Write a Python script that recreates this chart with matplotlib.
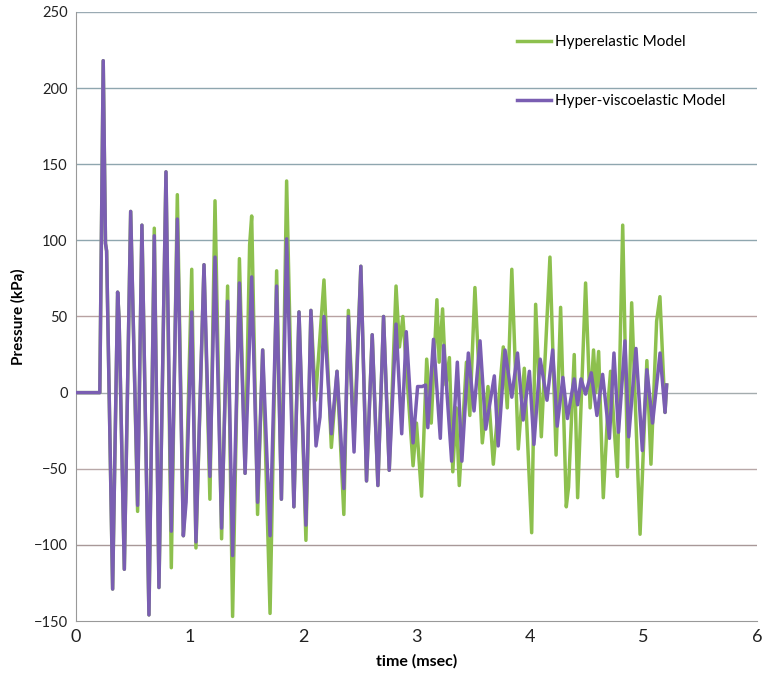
import matplotlib.pyplot as plt

# time (msec) / pressure (kPa), peaks and troughs
t_hyper = [0, 0.21, 0.24, 0.26, 0.27, 0.323, 0.367, 0.38, 0.426, 0.482, 0.543, 0.581,
           0.643, 0.69, 0.731, 0.793, 0.84, 0.893, 0.946, 0.97, 1.02, 1.057, 1.128, 1.18,
           1.225, 1.283, 1.336, 1.38, 1.44, 1.49, 1.53, 1.548, 1.60, 1.645, 1.71, 1.768,
           1.81, 1.856, 1.92, 1.965, 2.026, 2.07, 2.11, 2.185, 2.25, 2.30, 2.36, 2.40,
           2.45, 2.51, 2.56, 2.61, 2.66, 2.71, 2.76, 2.82, 2.85, 2.88, 2.97, 3.0, 3.045,
           3.09, 3.13, 3.18, 3.20, 3.23, 3.26, 3.29, 3.32, 3.35, 3.377, 3.44, 3.47, 3.515,
           3.58, 3.63, 3.677, 3.765, 3.80, 3.84, 3.897, 3.95, 4.015, 4.05, 4.1, 4.176,
           4.23, 4.27, 4.32, 4.34, 4.39, 4.42, 4.49, 4.53, 4.56, 4.58, 4.605, 4.646, 4.69,
           4.71, 4.77, 4.817, 4.86, 4.896, 4.97, 5.03, 5.066, 5.116, 5.145, 5.19, 5.204]
p_hyper = [0, 0, 218, 98, 93, -129, 66, 48, -116, 119, -78, 110,
           -146, 108, -128, 145, -115, 130, -94, -64, 81, -102, 84, -70,
           126, -96, 70, -147, 88, -53, 97, 116, -80, 28, -145, 80,
           -70, 139, -75, 53, -97, 54, -5, 74, -36, 14, -80, 54,
           -30, 83, -58, 38, -61, 50, -51, 70, 30, 50, -48, -20, -68,
           22, -20, 61, 20, 55, 5, 23, -52, -10, -61, 20, -15, 69,
           -33, 4, -47, 30, -10, 81, -37, 16, -92, 58, -29, 89,
           -41, 56, -75, -62, 25, -69, 72, -10, 28, 0, 27, -69, -5,
           14, -55, 110, -49, 59, -93, 21, -47, 47, 63, -13, 5]

t_visco = [0, 0.21, 0.24, 0.26, 0.27, 0.323, 0.367, 0.38, 0.426, 0.482, 0.543, 0.581,
           0.643, 0.69, 0.731, 0.793, 0.84, 0.893, 0.946, 0.97, 1.02, 1.057, 1.128, 1.18,
           1.225, 1.283, 1.336, 1.38, 1.44, 1.49, 1.548, 1.60, 1.645, 1.71, 1.768, 1.81,
           1.856, 1.92, 1.965, 2.026, 2.07, 2.115, 2.15, 2.185, 2.25, 2.30, 2.36, 2.40,
           2.45, 2.51, 2.56, 2.61, 2.66, 2.71, 2.76, 2.82, 2.87, 2.91, 2.97, 3.01, 3.05,
           3.08, 3.10, 3.15, 3.21, 3.24, 3.31, 3.36, 3.40, 3.457, 3.507, 3.56, 3.61, 3.686,
           3.72, 3.78, 3.84, 3.89, 3.94, 3.995, 4.035, 4.09, 4.15, 4.2, 4.24, 4.29, 4.33,
           4.39, 4.42, 4.45, 4.49, 4.54, 4.59, 4.64, 4.70, 4.74, 4.78, 4.837, 4.87, 4.934,
           4.99, 5.03, 5.08, 5.146, 5.19, 5.204]
p_visco = [0, 0, 218, 98, 93, -129, 66, 48, -116, 119, -74, 110,
           -146, 103, -128, 145, -91, 114, -94, -72, 53, -98, 84, -55,
           89, -89, 60, -107, 72, -53, 76, -72, 28, -94, 70, -70,
           101, -75, 53, -87, 54, -35, -16, 50, -27, 14, -63, 50,
           -39, 83, -58, 38, -61, 50, -51, 45, -27, 40, -33, 4, 4,
           5, -23, 35, -30, 31, -45, 20, -45, 26, -12, 34, -24, 11,
           -35, 28, -3, 26, -18, 14, -34, 22, -5, 28, -22, 10, -17,
           9, -8, 9, -1, 13, -15, 12, -30, 26, -26, 34, -29, 29,
           -38, 15, -20, 26, -13, 5]

y_ticks = [-150, -100, -50, 0, 50, 100, 150, 200, 250]
x_ticks = [0, 1, 2, 3, 4, 5, 6]

plt.rcParams['font.family'] = ['Lato', 'DejaVu Sans']

fig = plt.figure(figsize=(7.62, 6.77), dpi=100)
ax = fig.add_axes([0.0997, 0.0827, 0.8937, 0.8996])

# gridlines, slightly different tints like the reference
grid_colors = {250: '#9AAAB3', 200: '#8FA6AF', 150: '#8FA6AF', 100: '#8FA6AF',
               50: '#B8A2A2', 0: '#A4ACAE', -50: '#B8A8A8', -100: '#A89898'}
for y, c in grid_colors.items():
    ax.axhline(y, color=c, lw=1.0, zorder=0)

ax.plot(t_hyper, p_hyper, color='#8DC04E', lw=2.5, label='Hyperelastic Model',
        solid_joinstyle='round', zorder=2)
ax.plot(t_visco, p_visco, color='#7A5EB2', lw=2.5, label='Hyper-viscoelastic Model',
        solid_joinstyle='round', zorder=3)

ax.set_xlim(0, 6)
ax.set_ylim(-150, 250)
ax.set_xticks(x_ticks)
ax.set_yticks(y_ticks)
ax.tick_params(axis='x', labelsize=13, length=0, pad=6, colors='#222222')
ax.tick_params(axis='y', labelsize=10.5, length=0, pad=6, colors='#222222')

for s in ['top', 'right']:
    ax.spines[s].set_visible(False)
ax.spines['left'].set_color('#999999')
ax.spines['bottom'].set_color('#999999')

ax.set_xlabel('time (msec)', fontsize=11.5, fontweight='bold', labelpad=6)
ax.set_ylabel('Pressure (kPa)', fontsize=11, fontweight='bold', labelpad=6)

ax.legend(loc='upper left', bbox_to_anchor=(0.628, 0.985), frameon=False, fontsize=11,
          labelspacing=2.95, handlelength=2.2, handletextpad=0.25)

fig.savefig('out.png', dpi=100)
